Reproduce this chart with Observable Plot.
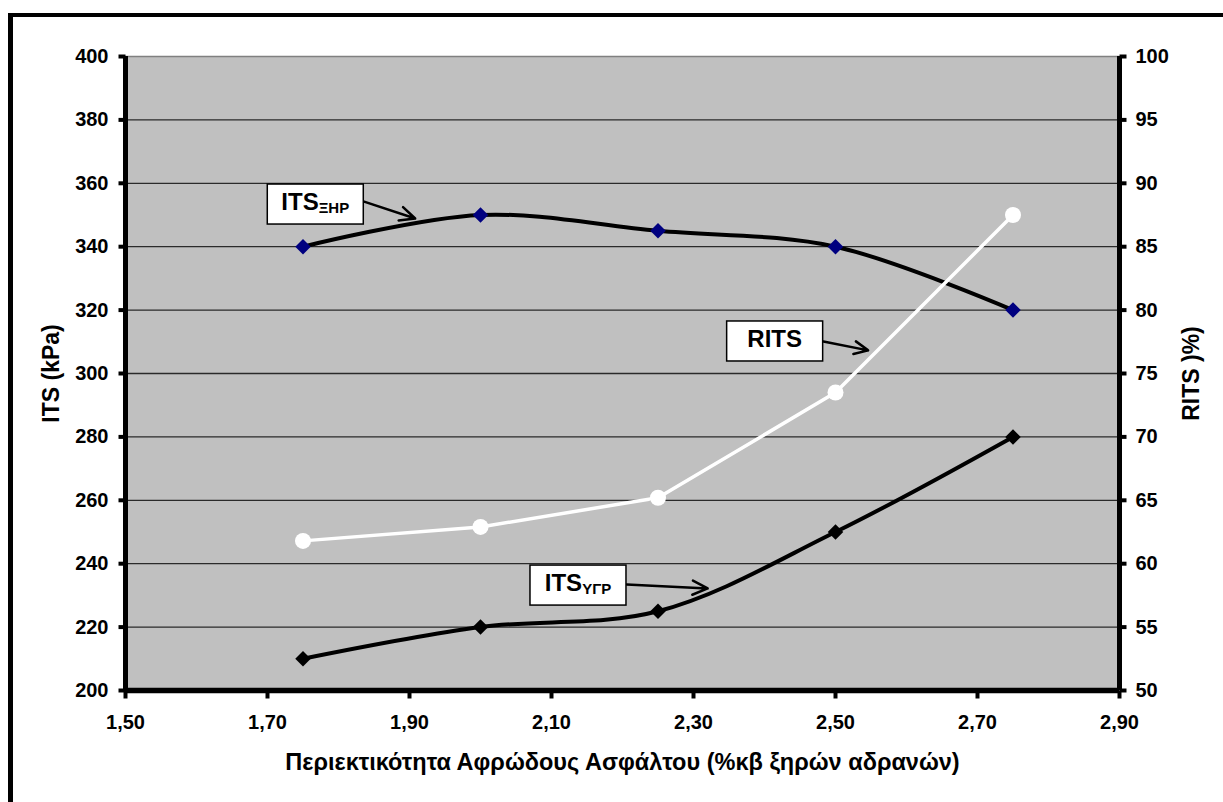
<!DOCTYPE html>
<html>
<head>
<meta charset="utf-8">
<script src="https://cdn.jsdelivr.net/npm/d3@7"></script>
<script src="https://cdn.jsdelivr.net/npm/@observablehq/plot@0.6"></script>
<style>
  html, body { margin: 0; padding: 0; background: #fff; overflow: hidden; }
  #wrap { position: relative; width: 1223px; height: 802px; }
  #border { position: absolute; left: 8px; top: 13px; width: 1400px; height: 1000px;
            border-left: 5px solid #000; border-top: 4px solid #000; }
  #chart { position: absolute; left: 0; top: 0; }
</style>
</head>
<body>
<div id="wrap"><div id="border"></div><div id="chart"></div></div>
<script>
// ---- data ----
const foam = [1.75, 2.00, 2.25, 2.50, 2.75];          // % foamed bitumen
const itsDry = [340, 350, 345, 340, 320];              // ITS ΞΗΡ (kPa)
const itsWet = [210, 220, 225, 250, 280];              // ITS ΥΓΡ (kPa)
const rits = [61.8, 62.9, 65.2, 73.5, 87.5];           // RITS (%)
const xTicks = [1.5, 1.7, 1.9, 2.1, 2.3, 2.5, 2.7, 2.9];
const yTicks = [200, 220, 240, 260, 280, 300, 320, 340, 360, 380, 400];
const rightTicks = [50, 55, 60, 65, 70, 75, 80, 85, 90, 95, 100];

// annotations (data coordinates)
const annMain = ["ITS", "RITS", "ITS"];
const annSub = ["ΞΗΡ", "", "ΥΓΡ"];
const annX = [1.768, 2.415, 2.138];
const annY = [353.3, 310.1, 233.1];
const arrX1 = [1.835, 2.483, 2.206];
const arrY1 = [354.3, 310.1, 233.4];
const arrX2 = [1.908, 2.546, 2.320];
const arrY2 = [348.9, 307.3, 232.2];

// right axis mapping: RITS 50..100 -> ITS 200..400
const toLeft = v => 200 + (v - 50) * 4;

const rows = foam.map((x, i) => ({x, dry: itsDry[i], wet: itsWet[i], rits: toLeft(rits[i])}));
const ann = annMain.map((m, i) => ({main: m, sub: annSub[i], x: annX[i], y: annY[i],
  x1: arrX1[i], y1: arrY1[i], x2: arrX2[i], y2: arrY2[i]}));
const rightAxis = rightTicks.map(v => ({y: toLeft(v), label: String(v)}));

const font = "'Liberation Sans', Arial, sans-serif";

// tick-mark symbols (pixel-length strokes)
const tickLeft = {draw(ctx) { ctx.moveTo(-7, 0); ctx.lineTo(0, 0); }};
const tickRight = {draw(ctx) { ctx.moveTo(0, 0); ctx.lineTo(7, 0); }};
const tickDown = {draw(ctx) { ctx.moveTo(0, 0); ctx.lineTo(0, 8); }};

const plot = Plot.plot({
  width: 1223,
  height: 802,
  marginLeft: 125,
  marginRight: 104,
  marginTop: 56,
  marginBottom: 112,
  style: {fontFamily: font, fontWeight: "bold", fontSize: "20px", background: "transparent", overflow: "visible"},
  x: {domain: [1.5, 2.9], axis: null},
  y: {domain: [200, 400], axis: null},
  marks: [
    Plot.frame({fill: "#c0c0c0", stroke: null}),
    Plot.ruleY(yTicks.slice(1, -1), {stroke: "#2a2a2a", strokeWidth: 1.3}),
    Plot.ruleY([400], {stroke: "#808080", strokeWidth: 1.5}),
    // tick marks
    Plot.dot(yTicks, {y: d => d, frameAnchor: "left", symbol: tickLeft, stroke: "#000", strokeWidth: 4, fill: "none", r: 5}),
    Plot.dot(rightAxis, {y: "y", frameAnchor: "right", symbol: tickRight, stroke: "#000", strokeWidth: 4, fill: "none", r: 5}),
    Plot.dot(xTicks, {x: d => d, frameAnchor: "bottom", symbol: tickDown, stroke: "#000", strokeWidth: 4, fill: "none", r: 5}),
    // tick labels
    Plot.text(yTicks, {y: d => d, text: d => String(d), frameAnchor: "left", textAnchor: "end", dx: -17,
      fontSize: 20, fontWeight: "bold"}),
    Plot.text(rightAxis, {y: "y", text: "label", frameAnchor: "right", textAnchor: "start", dx: 16,
      fontSize: 20, fontWeight: "bold"}),
    Plot.text(xTicks, {x: d => d, text: d => d.toFixed(2).replace(".", ","), frameAnchor: "bottom",
      lineAnchor: "middle", dy: 32, fontSize: 20, fontWeight: "bold"}),
    // axis titles
    Plot.text(["ITS (kPa)"], {frameAnchor: "left", textAnchor: "middle", lineAnchor: "middle", dx: -74, rotate: -90,
      fontSize: 23, fontWeight: "bold"}),
    Plot.text(["RITS )%)"], {frameAnchor: "right", textAnchor: "middle", lineAnchor: "middle", dx: 72, rotate: -90,
      fontSize: 23, fontWeight: "bold"}),
    Plot.text(["Περιεκτικότητα Αφρώδους Ασφάλτου (%κβ ξηρών αδρανών)"],
      {frameAnchor: "bottom", textAnchor: "middle", lineAnchor: "middle", dy: 72, fontSize: 23.5, fontWeight: "bold"}),
    // axis lines
    Plot.ruleX([1.5], {stroke: "#000", strokeWidth: 5}),
    Plot.ruleX([2.9], {stroke: "#000", strokeWidth: 5}),
    Plot.ruleY([200], {stroke: "#000", strokeWidth: 5.5}),
    // lines
    Plot.line(rows, {x: "x", y: "dry", stroke: "#000", strokeWidth: 4, curve: "catmull-rom"}),
    Plot.line(rows, {x: "x", y: "wet", stroke: "#000", strokeWidth: 4, curve: "catmull-rom"}),
    Plot.line(rows, {x: "x", y: "rits", stroke: "#fff", strokeWidth: 3.5}),
    Plot.dot(rows, {x: "x", y: "dry", symbol: "diamond2", r: 7, fill: "#000080", stroke: null}),
    Plot.dot(rows, {x: "x", y: "wet", symbol: "diamond2", r: 7, fill: "#000", stroke: null}),
    Plot.dot(rows, {x: "x", y: "rits", r: 8, fill: "#fff", stroke: null}),
    // annotation arrows
    Plot.arrow(ann, {x1: "x1", y1: "y1", x2: "x2", y2: "y2", stroke: "#000", strokeWidth: 2.5, headLength: 10, headAngle: 50}),
    // annotation boxes
    Plot.text(ann, {x: "x", y: "y", text: "main",
      render(index, scales, values, dimensions, context, next) {
        const g = d3.create("svg:g");
        for (const i of index) {
          const cx = values.x[i], cy = values.y[i];
          g.append("rect").attr("x", cx - 48).attr("y", cy - 20).attr("width", 96).attr("height", 40)
            .attr("fill", "#fff").attr("stroke", "#000").attr("stroke-width", 1.5);
          const t = g.append("text").attr("x", cx).attr("y", cy + 6).attr("text-anchor", "middle")
            .attr("font-family", font).attr("font-weight", "bold").attr("fill", "#000");
          t.append("tspan").attr("font-size", 24).text(ann[i].main);
          if (ann[i].sub) t.append("tspan").attr("font-size", 15).attr("dy", 3).text(ann[i].sub);
        }
        return g.node();
      }})
  ]
});
document.getElementById("chart").appendChild(plot);
</script>
</body>
</html>
